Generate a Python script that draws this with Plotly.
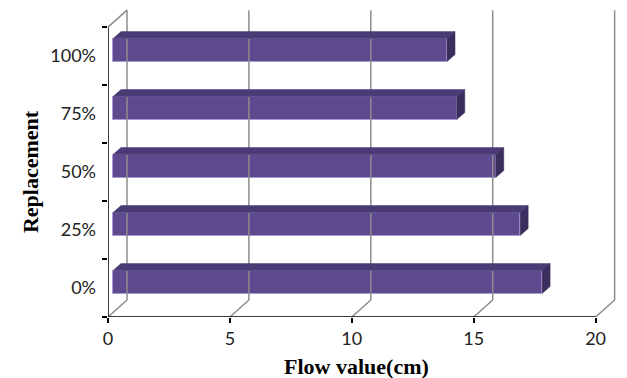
import plotly.graph_objects as go

# ---- data ----
categories = ["0%", "25%", "50%", "75%", "100%"]
flow_values = [17.6, 16.7, 15.7, 14.1, 13.7]
x_ticks = [0, 5, 10, 15, 20]

# ---- geometry (page has an 8px body margin, so the figure is offset by 8px) ----
OFF = 8
W, H = 627 - OFF, 378 - OFF
ML, MR, MT, MB = 108 - OFF, 7, 0, 61
XR = [0, 21]
YR = [0, 5.33]
PW, PH = W - ML - MR, H - MT - MB
PX_X = PW / (XR[1] - XR[0])
PX_Y = PH / (YR[1] - YR[0])
wall_dx, wall_dy = 19 / PX_X, 17 / PX_Y
front_dx, front_dy = 5 / PX_X, 6 / PX_Y
depth_dx, depth_dy = 8 / PX_X, 7 / PX_Y
bar_h = 23 / PX_Y
ncat = len(categories)

FRONT = "#5f4a8f"
TOP = "#4a3a75"
SIDE = "#3b2e5e"
GRID = "#8c8c8c"

fig = go.Figure()

def line(xs, ys, color=GRID, width=1.5):
    fig.add_trace(go.Scatter(x=xs, y=ys, mode="lines", line=dict(color=color, width=width),
                             hoverinfo="skip", showlegend=False, cliponaxis=False))

# back wall gridlines and floor diagonals
for t in x_ticks:
    line([t + wall_dx, t + wall_dx], [wall_dy, ncat + wall_dy])
    line([t, t + wall_dx], [0, wall_dy])
# left wall top edge
line([0, wall_dx], [ncat, ncat + wall_dy])

# bars: front faces
ys = [i + 0.5 + front_dy for i in range(ncat)]
fig.add_trace(go.Bar(
    x=flow_values, y=ys, base=front_dx, orientation="h", width=bar_h,
    marker=dict(color=FRONT, line=dict(color="#a99bd0", width=1)),
    hoverinfo="skip", showlegend=False))

# top and side faces
for v, yc in zip(flow_values, ys):
    x0, x1 = front_dx, front_dx + v
    y0, y1 = yc - bar_h / 2, yc + bar_h / 2
    fig.add_trace(go.Scatter(
        x=[x0, x1, x1 + depth_dx, x0 + depth_dx, x0],
        y=[y1, y1, y1 + depth_dy, y1 + depth_dy, y1],
        mode="lines", fill="toself", fillcolor=TOP, line=dict(color=TOP, width=0.5),
        hoverinfo="skip", showlegend=False))
    fig.add_trace(go.Scatter(
        x=[x1, x1 + depth_dx, x1 + depth_dx, x1, x1],
        y=[y0, y0 + depth_dy, y1 + depth_dy, y1, y0],
        mode="lines", fill="toself", fillcolor=SIDE, line=dict(color=SIDE, width=0.5),
        hoverinfo="skip", showlegend=False))

# axis lines
line([0, 0], [0, ncat], color="black", width=1.5)
line([0, x_ticks[-1]], [0, 0], color="black", width=1.5)

TICKFONT = dict(family="Lato, Liberation Sans", size=18, color="#222")
TITLEFONT = dict(family="Liberation Serif", size=22, color="black")

fig.update_layout(
    width=W, height=H,
    margin=dict(l=ML, r=MR, t=MT, b=MB),
    plot_bgcolor="white", paper_bgcolor="white",
    bargap=0,
    xaxis=dict(range=XR, tickvals=x_ticks, ticktext=[str(t) for t in x_ticks],
               ticks="outside", ticklen=5, tickwidth=1.5, tickcolor="black",
               showgrid=False, zeroline=False, showline=False, tickfont=TICKFONT),
    yaxis=dict(range=YR, tickvals=[i + 0.5 for i in range(ncat)], ticktext=categories,
               ticks="", showgrid=False, zeroline=False, showline=False,
               ticklabelstandoff=11, tickfont=TICKFONT,
               minor=dict(tickvals=list(range(ncat + 1)), ticks="outside", ticklen=5,
                          tickwidth=1.5, tickcolor="black", showgrid=False)),
    annotations=[
        dict(text="<b>Replacement</b>", textangle=-90, xref="paper", yref="y",
             x=(30 - 108) / PW, y=ncat / 2, xanchor="center", yanchor="middle",
             showarrow=False, font=TITLEFONT),
        dict(text="<b>Flow value(cm)</b>", xref="x", yref="paper",
             x=(356 - 108) / PX_X, y=-(366 - 317) / PH,
             xanchor="center", yanchor="middle",
             showarrow=False, font=TITLEFONT),
    ],
)

fig.write_html("out.html")
